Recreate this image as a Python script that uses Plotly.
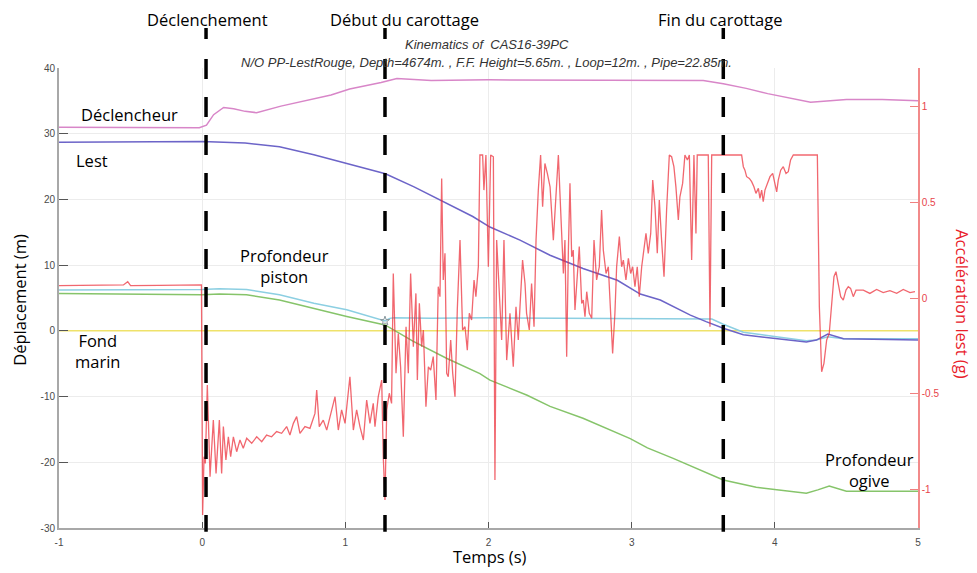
import plotly.graph_objects as go

# ---------------- data ----------------
t_decl = [-1.0, -0.5, -0.02, 0.03, 0.08, 0.15, 0.22, 0.3, 0.38, 0.55, 0.73, 0.9, 1.03, 1.15, 1.25, 1.36, 1.6, 2.0, 2.6, 3.0, 3.34, 3.45, 3.5, 3.64, 3.8, 3.95, 4.1, 4.25, 4.5, 4.75, 5.0]
decl = [31.0, 30.9, 30.9, 31.3, 32.9, 34.0, 33.8, 33.4, 33.2, 34.2, 35.1, 35.9, 36.8, 37.3, 37.8, 38.4, 38.1, 38.2, 38.2, 38.1, 38.1, 38.2, 38.1, 37.6, 36.9, 36.1, 35.5, 34.8, 35.2, 35.2, 35.0]

t_lest = [-1.0, -0.5, 0.0, 0.3, 0.54, 0.78, 1.01, 1.28, 1.48, 1.66, 1.89, 2.01, 2.22, 2.43, 2.66, 2.9, 3.06, 3.2, 3.41, 3.52, 3.64, 3.78, 4.01, 4.22, 4.29, 4.37, 4.48, 4.75, 5.0]
lest = [28.7, 28.7, 28.8, 28.6, 28.0, 26.8, 25.5, 23.9, 21.9, 19.9, 17.4, 15.8, 13.8, 11.5, 9.5, 7.7, 5.6, 4.7, 2.4, 1.4, 0.4, -0.6, -1.2, -1.7, -1.4, -0.5, -1.2, -1.3, -1.4]

t_piston = [-1.0, -0.5, 0.0, 0.12, 0.31, 0.54, 0.78, 1.01, 1.277, 1.31, 1.34, 1.6, 2.0, 2.5, 3.0, 3.5, 3.56, 3.64, 3.78, 4.01, 4.22, 4.29, 4.37, 4.48, 4.75, 5.0]
piston = [6.2, 6.2, 6.3, 6.4, 6.3, 5.5, 4.2, 3.2, 1.5, 1.9, 2.0, 1.9, 2.0, 1.9, 1.9, 1.9, 1.8, 1.0, -0.2, -0.9, -1.5, -1.4, -0.9, -1.2, -1.2, -1.2]

t_ogive = [-1.0, -0.5, 0.0, 0.12, 0.31, 0.54, 0.78, 1.01, 1.277, 1.475, 1.71, 1.94, 2.01, 2.27, 2.43, 2.66, 2.99, 3.11, 3.29, 3.52, 3.64, 3.87, 4.05, 4.22, 4.3, 4.38, 4.5, 4.75, 5.0]
ogive = [5.7, 5.6, 5.5, 5.6, 5.5, 4.7, 3.4, 2.2, 0.9, -1.6, -4.2, -6.5, -7.5, -9.8, -11.5, -13.3, -16.4, -17.8, -19.4, -21.6, -22.7, -23.8, -24.3, -24.7, -24.2, -23.6, -24.4, -24.4, -24.4]

t_fond = [-1.0, 5.0]
fond = [0.0, 0.0]

t_star = [1.277]
star = [1.5]

t_acc = [-1.0, -0.8, -0.55, -0.52, -0.5, -0.3, -0.1, -0.005,
         0.003, 0.013, 0.022, 0.036, 0.055, 0.078, 0.097, 0.120, 0.136, 0.148, 0.166, 0.183, 0.199,
         0.218, 0.241, 0.264, 0.287, 0.311, 0.346, 0.381, 0.416, 0.450, 0.485, 0.520, 0.555, 0.590,
         0.613, 0.637, 0.660, 0.683, 0.718, 0.753, 0.788, 0.800, 0.818, 0.846, 0.870, 0.893, 0.928,
         0.951, 0.974, 0.998, 1.032, 1.056, 1.079, 1.102, 1.126, 1.149, 1.172, 1.195, 1.207, 1.230,
         1.254, 1.265, 1.277, 1.289, 1.307,
         1.323, 1.335, 1.354, 1.370, 1.386, 1.405, 1.424, 1.440, 1.456, 1.475, 1.493, 1.503, 1.517,
         1.533, 1.545, 1.563, 1.580, 1.596, 1.614, 1.633, 1.649, 1.661, 1.673, 1.684, 1.696, 1.708,
         1.719, 1.736, 1.750, 1.766, 1.782, 1.801, 1.819, 1.836, 1.852, 1.866, 1.882, 1.899, 1.912,
         1.929, 1.940, 1.959, 1.968, 1.982, 1.999, 2.015, 2.034, 2.045, 2.057, 2.075, 2.092, 2.108,
         2.127, 2.150, 2.173, 2.192, 2.208, 2.220, 2.238, 2.255, 2.266, 2.285, 2.301, 2.318, 2.332,
         2.348, 2.364, 2.378, 2.394, 2.411,
         2.430, 2.453, 2.471, 2.488, 2.499, 2.511, 2.523, 2.534, 2.546, 2.558, 2.569, 2.581, 2.592,
         2.604, 2.616, 2.634, 2.651, 2.662, 2.674, 2.686, 2.704, 2.721, 2.737, 2.755, 2.774, 2.790,
         2.802, 2.821, 2.837, 2.853, 2.867, 2.883, 2.895, 2.914, 2.930, 2.942, 2.960, 2.977, 2.993,
         3.007, 3.023, 3.039, 3.053, 3.070, 3.086, 3.100, 3.116, 3.133, 3.147, 3.163, 3.179, 3.193,
         3.209, 3.226, 3.244, 3.263, 3.279, 3.295, 3.309, 3.326, 3.337, 3.356, 3.372, 3.389, 3.403,
         3.419, 3.435, 3.449, 3.458, 3.535, 3.547, 3.559,
         3.768, 3.780, 3.791, 3.803, 3.822, 3.838, 3.854, 3.868, 3.885, 3.896, 3.908, 3.919, 3.931,
         3.947, 3.966, 3.985, 4.001, 4.013, 4.024, 4.041, 4.059, 4.078, 4.094, 4.110, 4.129, 4.297,
         4.311, 4.327, 4.343, 4.362, 4.380, 4.397, 4.413, 4.427, 4.443, 4.460, 4.478, 4.497, 4.513,
         4.529, 4.548, 4.567, 4.618, 4.664, 4.711, 4.757, 4.804, 4.851, 4.897, 4.944, 4.979]
acc = [0.065, 0.065, 0.068, 0.085, 0.065, 0.066, 0.066, 0.068,
       -1.132, -0.828, -0.863, -0.454, -0.932, -0.637, -0.915, -0.637, -0.915, -0.671, -0.845, -0.724, -0.828,
       -0.724, -0.802, -0.741, -0.784, -0.732, -0.758, -0.724, -0.750, -0.715, -0.724, -0.697, -0.706, -0.671,
       -0.715, -0.654, -0.619, -0.706, -0.671, -0.680, -0.602, -0.480, -0.671, -0.637, -0.689, -0.619, -0.515,
       -0.689, -0.584, -0.654, -0.411, -0.689, -0.584, -0.671, -0.741, -0.532, -0.654, -0.550, -0.671, -0.515,
       -0.428, -0.828, -1.054, -0.584, -0.497,
       -0.550, 0.128, -0.393, -0.185, -0.359, -0.724, -0.150, -0.393, 0.128, -0.254, 0.024, -0.428, -0.028,
       -0.254, -0.167, -0.567, -0.359, -0.376, -0.306, -0.532, 0.059, 0.007, 0.624, 0.094, 0.233, -0.393,
       -0.411, -0.219, -0.393, -0.515, -0.063, 0.302, -0.167, -0.150, -0.272, -0.080, -0.115, 0.094, 0.007,
       0.163, 0.746, 0.746, 0.563, 0.746, 0.163, 0.746, 0.737, -0.950, 0.302, 0.041, -0.219, 0.302,
       -0.324, -0.080, -0.359, -0.046, -0.219, -0.046, 0.198, 0.076, -0.080, -0.167, 0.076, -0.150, 0.302,
       0.563, 0.746, 0.476, 0.702, 0.650,
       0.580, 0.302, 0.563, 0.746, 0.546, 0.302, 0.128, 0.302, -0.306, 0.250, 0.598, 0.215, 0.250,
       -0.063, 0.094, 0.268, -0.028, -0.011, -0.098, 0.033, -0.080, -0.106, 0.302, 0.094, 0.163, 0.459,
       0.250, 0.128, 0.163, -0.115, -0.289, -0.080, 0.163, 0.320, 0.163, 0.198, 0.094, 0.207, 0.128,
       0.163, 0.059, 0.163, 0.007, 0.163, 0.250, 0.337, 0.233, 0.337, 0.615, 0.476, 0.233, 0.511,
       0.302, 0.111, 0.459, 0.746, 0.737, 0.685, 0.580, 0.407, 0.528, 0.598, 0.746, 0.720, 0.746,
       0.198, 0.746, 0.337, 0.746, 0.746, -0.150, 0.746,
       0.746, 0.685, 0.667, 0.633, 0.624, 0.607, 0.580, 0.546, 0.572, 0.520, 0.563, 0.502, 0.563,
       0.598, 0.633, 0.650, 0.598, 0.554, 0.615, 0.667, 0.685, 0.650, 0.659, 0.720, 0.746, 0.746,
       -0.046, -0.385, -0.341, -0.219, -0.185, -0.011, 0.111, 0.137, 0.076, 0.007, -0.011, 0.041, 0.059,
       0.050, 0.007, 0.041, 0.041, 0.024, 0.045, 0.028, 0.038, 0.024, 0.045, 0.028, 0.033]

event_times = [0.027, 1.277, 3.64]
event_labels = ["Déclenchement", "Début du carottage", "Fin du carottage"]
event_label_x = [0.04, 1.41, 3.62]

left_ticks = [-30, -20, -10, 0, 10, 20, 30, 40]
left_ticktext = ["-30", "-20", "-10", "0", "10", "20", "30", "40"]
x_ticks = [-1, 0, 1, 2, 3, 4, 5]
x_ticktext = ["-1", "0", "1", "2", "3", "4", "5"]
right_ticks = [-1, -0.5, 0, 0.5, 1]
right_ticktext = ["-1", "-0.5", "0", "0.5", "1"]

# ---------------- figure ----------------
LW = 1.5
fig = go.Figure()
fig.add_trace(go.Scatter(x=t_fond, y=fond, mode="lines", line=dict(color="#efe26a", width=LW)))
fig.add_trace(go.Scatter(x=t_ogive, y=ogive, mode="lines", line=dict(color="#86c46a", width=LW)))
fig.add_trace(go.Scatter(x=t_piston, y=piston, mode="lines", line=dict(color="#8ccfe2", width=LW)))
fig.add_trace(go.Scatter(x=t_lest, y=lest, mode="lines", line=dict(color="#6c64c8", width=LW)))
fig.add_trace(go.Scatter(x=t_decl, y=decl, mode="lines", line=dict(color="#d886c8", width=LW)))
fig.add_trace(go.Scatter(x=t_star, y=star, mode="markers",
                         marker=dict(symbol="star-open", size=7, color="#8a9aa0", line=dict(width=1))))
fig.add_trace(go.Scatter(x=t_acc, y=acc, mode="lines", yaxis="y2",
                         line=dict(color="rgba(235,45,55,0.72)", width=1.3)))

tickfont = dict(family="Liberation Sans, Arial", size=10, color="#4a4a4a")
# page body has an 8px margin: figure is sized/offset so the plot lands where the reference has it
fig.update_layout(
    width=969, height=565,
    margin=dict(l=51, r=59, t=60, b=45),
    paper_bgcolor="white", plot_bgcolor="white",
    showlegend=False,
    xaxis=dict(range=[-1, 5], tickvals=x_ticks, ticktext=x_ticktext, ticks="inside", ticklen=6,
               tickcolor="#555", showgrid=True, gridcolor="#ececec", gridwidth=1, zeroline=False,
               showline=True, linecolor="#a8a8a8", linewidth=2, tickfont=tickfont,
               ticklabelstandoff=4),
    yaxis=dict(range=[-30, 40], tickvals=left_ticks, ticktext=left_ticktext, ticks="inside", ticklen=9,
               tickcolor="#555", showgrid=True, gridcolor="#ececec", gridwidth=1, zeroline=False,
               showline=True, linecolor="#a8a8a8", linewidth=2, tickfont=tickfont),
    yaxis2=dict(range=[-1.2, 1.2], overlaying="y", side="right", tickvals=right_ticks,
                ticktext=right_ticktext, ticks="inside", ticklen=8, tickcolor="#f08080",
                showgrid=False, zeroline=False, showline=True, linecolor="#f28a8a", linewidth=1.5,
                tickfont=dict(family="Liberation Sans, Arial", size=10, color="#e8444a")),
)

# event dashed lines
for et in event_times:
    fig.add_shape(type="line", xref="x", yref="paper", x0=et, x1=et, y0=1.087, y1=1.063,
                  line=dict(color="black", width=3.5), layer="above")
    fig.add_shape(type="line", xref="x", yref="paper", x0=et, x1=et, y0=1.0196, y1=-0.008,
                  line=dict(color="black", width=3.5, dash="20px,18px"), layer="above")

lab_font = dict(family="Open Sans", size=16.5, color="black")
for lx, lt in zip(event_label_x, event_labels):
    fig.add_annotation(x=lx, y=1.106, xref="x", yref="paper", text=lt, showarrow=False,
                       font=lab_font, xanchor="center", yanchor="middle")

# title lines
fig.add_annotation(x=0.498, y=1.05, xref="paper", yref="paper", text="<i>Kinematics of  CAS16-39PC</i>",
                   showarrow=False, font=dict(family="Liberation Sans, Arial", size=13, color="#333"),
                   yanchor="middle")
fig.add_annotation(x=0.498, y=1.013, xref="paper", yref="paper",
                   text="<i>N/O PP-LestRouge, Depth=4674m. , F.F. Height=5.65m. , Loop=12m. , Pipe=22.85m.</i>",
                   showarrow=False, font=dict(family="Liberation Sans, Arial", size=13, color="#333"),
                   yanchor="middle")

# curve labels
curve_labels = [(-0.51, 32.85, "Déclencheur"), (-0.77, 26.0, "Lest"),
                (0.578, 9.87, "Profondeur<br>piston"), (-0.728, -3.07, "Fond<br>marin"),
                (4.658, -21.1, "Profondeur<br>ogive")]
for cx, cy, ct in curve_labels:
    fig.add_annotation(x=cx, y=cy, xref="x", yref="y", text=ct, showarrow=False, font=lab_font,
                       xanchor="center", yanchor="middle")

# axis titles
fig.add_annotation(x=0.502, y=-0.063, xref="paper", yref="paper", text="Temps (s)", showarrow=False,
                   font=lab_font, yanchor="middle")
fig.add_annotation(x=-0.0454, y=0.496, xref="paper", yref="paper", text="Déplacement (m)", showarrow=False,
                   font=lab_font, textangle=-90, xanchor="center", yanchor="middle")
fig.add_annotation(x=1.051, y=0.487, xref="paper", yref="paper", text="Accélération lest (g)",
                   showarrow=False, font=dict(family="Open Sans", size=16.5, color="#e8202a"),
                   textangle=90, xanchor="center", yanchor="middle")

fig.write_html("out.html")
